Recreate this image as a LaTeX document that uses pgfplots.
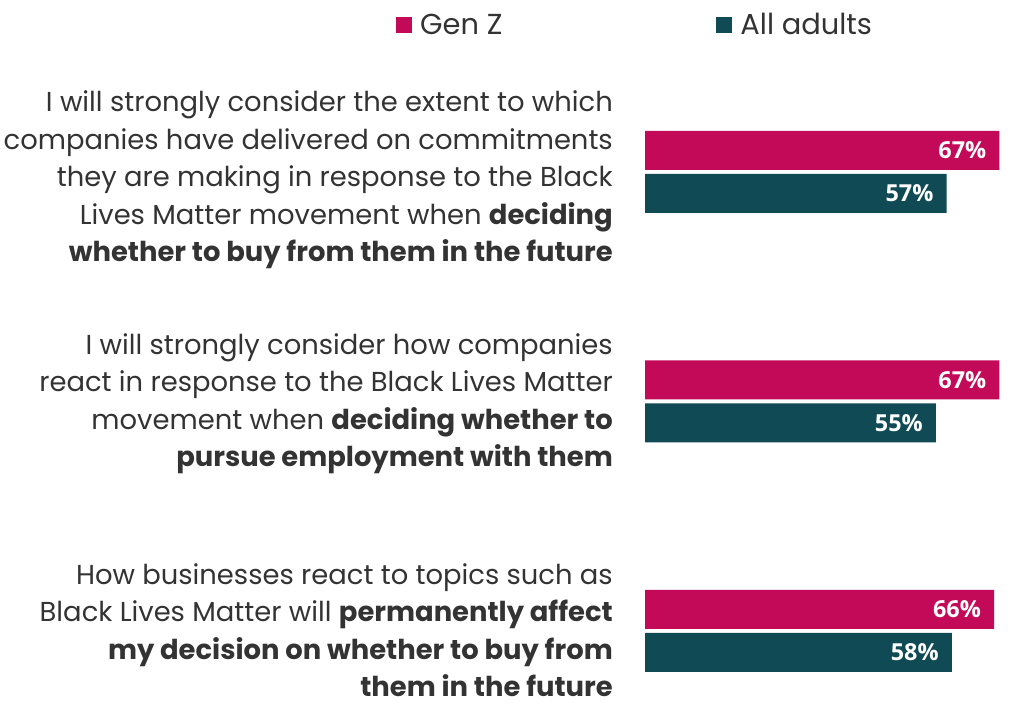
\documentclass[border=0pt]{standalone}
\usepackage{pgfplots}
\pgfplotsset{compat=1.18}
\usepackage{fontspec}
\setmainfont{Poppins}
\newfontfamily\valfont{Open Sans}
\definecolor{genz}{HTML}{C20A58}
\definecolor{adults}{HTML}{0F4A55}
\definecolor{txt}{HTML}{333333}
\newcommand{\lblfont}{\fontsize{27.5}{37.7}\selectfont}

\begin{document}
\begin{tikzpicture}
\useasboundingbox (0,0) rectangle (1024bp,715bp);
\begin{axis}[
    at={(645bp,-30.75bp)}, anchor=south west,
    scale only axis, width=370.3bp, height=688.5bp,
    xmin=0, xmax=70, ymin=-0.5, ymax=2.5,
    xbar, bar width=39bp,
    axis line style={draw=none}, ticks=none,
    clip=false,
    point meta=x,
    /pgf/number format/assume math mode=true,
    nodes near coords={\pgfmathprintnumber{\pgfplotspointmeta}\%},
    every node near coord/.append style={anchor=east, xshift=-13bp, inner sep=0pt,
        text=white, font=\valfont\bfseries\fontsize{23.5}{27}\selectfont},
    legend columns=2,
    legend image code/.code={\fill[#1] (0bp,-8bp) rectangle (16bp,8bp);},
    legend style={at={(axis description cs:-0.6724,1.0468)}, anchor=west,
        draw=none, fill=none, inner sep=0pt, font=\fontsize{29}{34}\selectfont, text=txt,
        /tikz/every odd column/.append style={column sep=6bp},
        /tikz/every even column/.append style={column sep=212bp}},
]
\addplot[fill=genz, draw=none, bar shift=21.5bp] coordinates {(67,2) (67,1) (66,0)};
\addlegendentry{Gen Z}
\addplot[fill=adults, draw=none, bar shift=-21.5bp] coordinates {(57,2) (55,1) (58,0)};
\addlegendentry{All adults}
\end{axis}
\begin{scope}[every node/.style={anchor=base east, align=right, inner sep=0pt, font=\lblfont, text=txt}]
\node at (613bp,453bp) {I will strongly consider the extent to which\\companies have delivered on commitments\\they are making in response to the Black\\Lives Matter movement when \textbf{deciding}\\\textbf{whether to buy from them in the future}};
\node at (613bp,248bp) {I will strongly consider how companies\\react in response to the Black Lives Matter\\movement when \textbf{deciding whether to}\\\textbf{pursue employment with them}};
\node at (613bp,18bp) {How businesses react to topics such as\\Black Lives Matter will \textbf{permanently affect}\\\textbf{my decision on whether to buy from}\\\textbf{them in the future}};
\end{scope}
\end{tikzpicture}
\end{document}
